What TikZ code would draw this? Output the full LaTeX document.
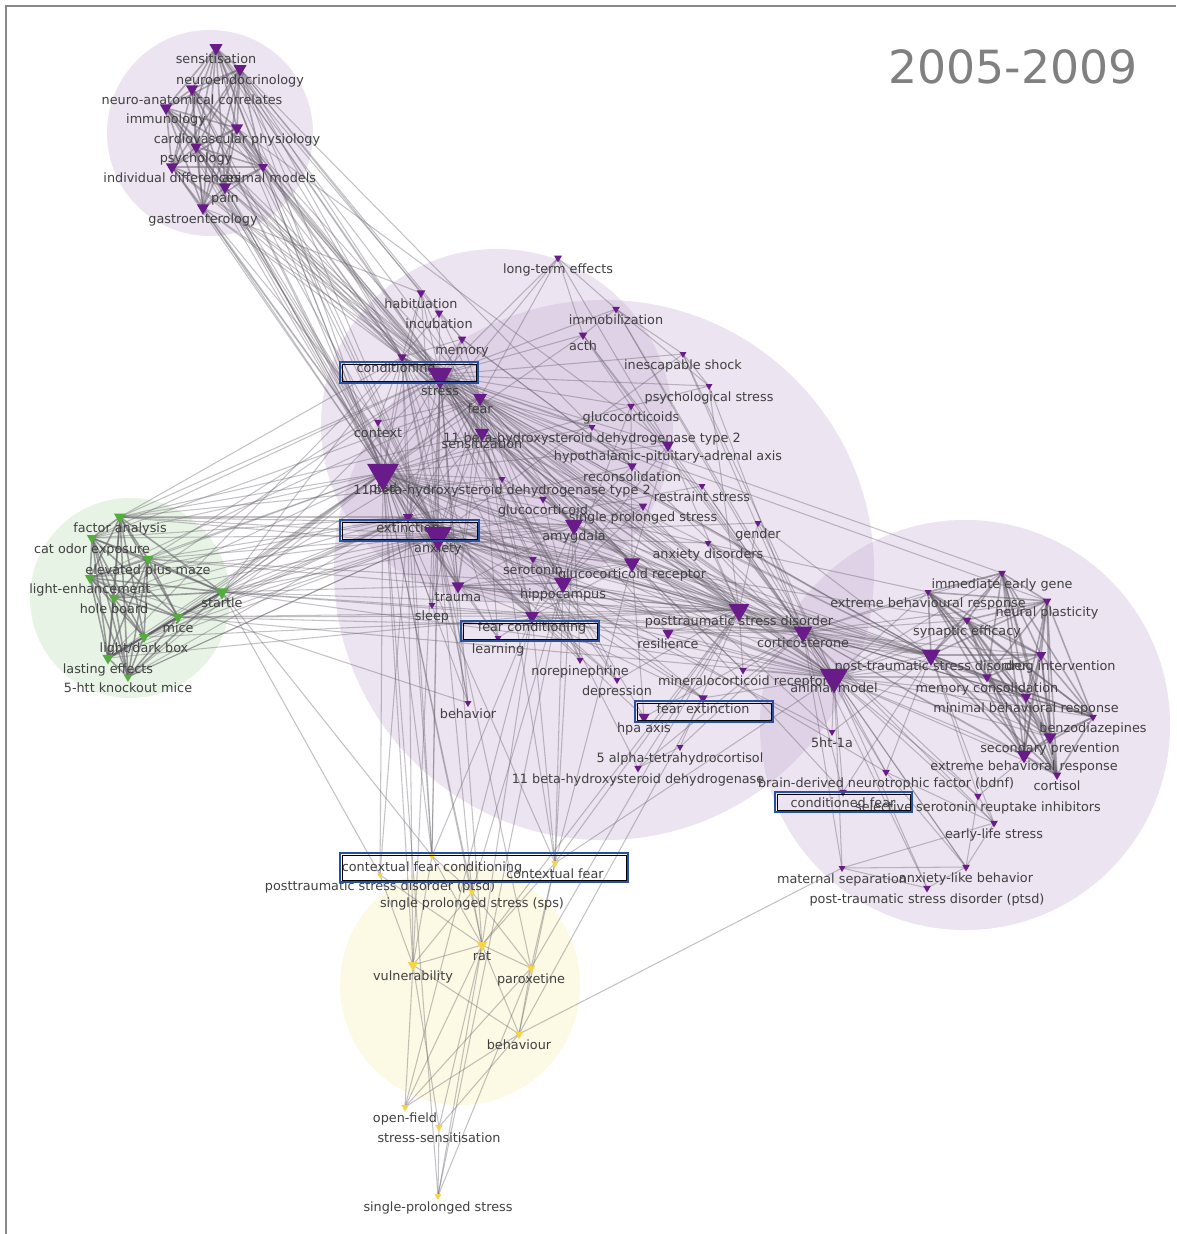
\documentclass[tikz,border=0pt]{standalone}
\usepackage{fontspec}
\setmainfont{DejaVu Sans}
\usetikzlibrary{shapes.geometric}
\pgfdeclarelayer{bg}
\pgfsetlayers{bg,main}
\definecolor{kwpurple}{RGB}{106,27,138}
\definecolor{kwgreen}{RGB}{84,172,62}
\definecolor{kwyellow}{RGB}{246,212,72}
\definecolor{kwcircp}{RGB}{190,160,205}
\definecolor{kwcircg}{RGB}{231,243,228}
\definecolor{kwcircy}{RGB}{252,249,228}
\definecolor{kwtext}{RGB}{64,64,64}
\definecolor{kwedge}{RGB}{100,95,105}
\definecolor{kwbox}{RGB}{40,80,160}
\definecolor{kwframe}{RGB}{136,136,136}
\definecolor{kwtitle}{RGB}{128,128,128}

\begin{document}
\begin{tikzpicture}[x=0.025cm,y=-0.025cm,
tri/.style={regular polygon, regular polygon sides=3, shape border rotate=180, inner sep=0pt, minimum size=#1*0.25mm},
ptri/.style={tri=#1, fill=kwpurple},
gtri/.style={tri=#1, fill=kwgreen},
ytri/.style={tri=#1, fill=kwyellow},
lbl/.style={font=\fontsize{9.1}{10}\selectfont, text=kwtext, inner sep=0pt, text height=0.75em, text depth=0.25em, yshift=-0.3cm},
edge/.style={draw=kwedge, line width=0.75pt, opacity=0.38},
cedge/.style={draw=kwedge, line width=1.1pt, opacity=0.5},
hlout/.style={draw=kwbox, line width=1.6pt},
hlin/.style={draw=black, line width=0.6pt}
]
\useasboundingbox (0,0) rectangle (1176,1234);

% topic circles
\begin{pgfonlayer}{bg}
\fill[white] (0,0) rectangle (1176,1234);
\fill[kwcircp, opacity=0.28] (210,133) circle[radius=2.575cm];
\fill[kwcircp, opacity=0.28] (497,425) circle[radius=4.4cm];
\fill[kwcircp, opacity=0.28] (604,570) circle[radius=6.75cm];
\fill[kwcircp, opacity=0.28] (965,725) circle[radius=5.125cm];
\fill[kwcircg] (130,598) circle[radius=2.5cm];
\fill[kwcircy] (460,985) circle[radius=3cm];
\end{pgfonlayer}

\draw[kwframe, line width=0.05cm] (6,1234) -- (6,6) -- (1176,6);
\node[font=\fontsize{32.5}{36}\selectfont, text=kwtitle] (title) at (1013,67) {2005-2009};

% top-left cluster
\node[ptri=15, label={[lbl]center:sensitisation}] (sens) at (216,48) {};
\node[ptri=15, label={[lbl]center:neuroendocrinology}] (neuend) at (240,69) {};
\node[ptri=14, label={[lbl]center:neuro-anatomical correlates}] (neuana) at (192,89) {};
\node[ptri=14, label={[lbl]center:immunology}] (immun) at (166,108) {};
\node[ptri=14, label={[lbl]center:cardiovascular physiology}] (cardio) at (237,128) {};
\node[ptri=13, label={[lbl]center:psychology}] (psych) at (196,147) {};
\node[ptri=14, label={[lbl]center:individual differences}] (indiv) at (172,167) {};
\node[ptri=11, label={[lbl,xshift=0.15cm]center:animal models}] (animod) at (263,167) {};
\node[ptri=14, label={[lbl]center:pain}] (pain) at (225,187) {};
\node[ptri=14, label={[lbl]center:gastroenterology}] (gastro) at (203,208) {};

% central cluster
\node[ptri=9, label={[lbl]center:long-term effects}] (longterm) at (558,258) {};
\node[ptri=10, label={[lbl]center:habituation}] (habit) at (421,293) {};
\node[ptri=10, label={[lbl]center:incubation}] (incub) at (439,313) {};
\node[ptri=10, label={[lbl]center:memory}] (memory) at (462,339) {};
\node[ptri=11, label={[lbl,xshift=-0.15cm]center:conditioning}] (cond) at (402,357) {};
\node[ptri=29, label={[lbl,yshift=-0.12cm]center:stress}] (stress) at (440,375) {};
\node[ptri=16, label={[lbl]center:fear}] (fear) at (480,398) {};
\node[ptri=9, label={[lbl]center:context}] (context) at (378,422) {};
\node[ptri=17, label={[lbl]center:sensitization}] (sensz) at (482,433) {};
\node[ptri=10, label={[lbl]center:acth}] (acth) at (583,335) {};
\node[ptri=9, label={[lbl]center:immobilization}] (immob) at (616,309) {};
\node[ptri=8, label={[lbl]center:inescapable shock}] (inesc) at (683,354) {};
\node[ptri=8, label={[lbl]center:psychological stress}] (psystr) at (709,386) {};
\node[ptri=9, label={[lbl]center:glucocorticoids}] (glucos) at (631,406) {};
\node[ptri=8, label={[lbl]center:11 beta-hydroxysteroid dehydrogenase type 2}] (hsdtwo) at (592,427) {};
\node[ptri=14, label={[lbl]center:hypothalamic-pituitary-adrenal axis}] (hpaxis) at (668,445) {};
\node[ptri=11, label={[lbl]center:reconsolidation}] (recons) at (632,466) {};
\node[ptri=8, label={[lbl]center:11 beta-hydroxysteroid dehydrogenase type 2}] (hsdtwob) at (502,479) {};
\node[ptri=37, label={[lbl,yshift=-0.1cm]center:ptsd}] (ptsd) at (383,473) {};
\node[ptri=9, label={[lbl]center:glucocorticoid}] (gluco) at (543,499) {};
\node[ptri=8, label={[lbl]center:restraint stress}] (restr) at (702,486) {};
\node[ptri=10, label={[lbl]center:single prolonged stress}] (spstr) at (643,506) {};
\node[ptri=12, label={[lbl]center:extinction}] (extinct) at (408,517) {};
\node[ptri=32, label={[lbl,yshift=-0.05cm]center:anxiety}] (anxiety) at (438,535) {};
\node[ptri=21, label={[lbl]center:amygdala}] (amyg) at (574,525) {};
\node[ptri=8, label={[lbl]center:gender}] (gender) at (758,523) {};
\node[ptri=8, label={[lbl]center:anxiety disorders}] (anxdis) at (708,543) {};
\node[ptri=9, label={[lbl]center:serotonin}] (seroton) at (533,559) {};
\node[ptri=19, label={[lbl]center:glucocorticoid receptor}] (gcr) at (632,563) {};
\node[ptri=21, label={[lbl]center:hippocampus}] (hippo) at (563,583) {};
\node[ptri=15, label={[lbl]center:trauma}] (trauma) at (458,586) {};
\node[ptri=8, label={[lbl]center:sleep}] (sleep) at (432,605) {};
\node[ptri=24, label={[lbl]center:posttraumatic stress disorder}] (ptsdis) at (739,610) {};
\node[ptri=16, label={[lbl]center:fear conditioning}] (fearcond) at (532,616) {};
\node[ptri=8, label={[lbl]center:learning}] (learning) at (498,638) {};
\node[ptri=8, label={[lbl]center:norepinephrine}] (norepi) at (580,660) {};
\node[ptri=8, label={[lbl]center:depression}] (depress) at (617,680) {};
\node[ptri=8, label={[lbl]center:behavior}] (behavior) at (468,703) {};
\node[ptri=13, label={[lbl]center:resilience}] (resil) at (668,633) {};
\node[ptri=22, label={[lbl]center:corticosterone}] (cort) at (803,632) {};
\node[ptri=9, label={[lbl]center:mineralocorticoid receptor}] (mcr) at (743,670) {};
\node[ptri=11, label={[lbl]center:fear extinction}] (fearext) at (703,698) {};
\node[ptri=13, label={[lbl]center:hpa axis}] (hpa) at (644,717) {};
\node[ptri=8, label={[lbl]center:5 alpha-tetrahydrocortisol}] (thf) at (680,747) {};
\node[ptri=9, label={[lbl]center:11 beta-hydroxysteroid dehydrogenase}] (hsd) at (638,768) {};
\node[ptri=8, label={[lbl]center:5ht-1a}] (htoa) at (832,732) {};

% right cluster
\node[ptri=9, label={[lbl]center:immediate early gene}] (ieg) at (1002,573) {};
\node[ptri=8, label={[lbl]center:extreme behavioural response}] (ebr) at (928,592) {};
\node[ptri=10, label={[lbl]center:neural plasticity}] (neural) at (1047,601) {};
\node[ptri=10, label={[lbl]center:synaptic efficacy}] (synap) at (967,620) {};
\node[ptri=22, label={[lbl]center:post-traumatic stress disorder}] (ptsdr) at (931,655) {};
\node[ptri=33, label={[lbl]center:animal model}] (animal) at (834,677) {};
\node[ptri=12, label={[lbl,xshift=0.47cm]center:drug intervention}] (drug) at (1041,655) {};
\node[ptri=11, label={[lbl]center:memory consolidation}] (memcon) at (987,677) {};
\node[ptri=12, label={[lbl]center:minimal behavioral response}] (minimal) at (1026,697) {};
\node[ptri=9, label={[lbl]center:benzodiazepines}] (benzo) at (1093,717) {};
\node[ptri=15, label={[lbl]center:secondary prevention}] (second) at (1050,737) {};
\node[ptri=17, label={[lbl]center:extreme behavioral response}] (ebrb) at (1024,755) {};
\node[ptri=10, label={[lbl]center:cortisol}] (cortisol) at (1057,775) {};
\node[ptri=9, label={[lbl]center:brain-derived neurotrophic factor (bdnf)}] (bdnf) at (886,772) {};
\node[ptri=9, label={[lbl]center:conditioned fear}] (condfear) at (843,792) {};
\node[ptri=9, label={[lbl]center:selective serotonin reuptake inhibitors}] (ssri) at (978,796) {};
\node[ptri=9, label={[lbl]center:early-life stress}] (early) at (994,823) {};
\node[ptri=8, label={[lbl]center:maternal separation}] (maternal) at (842,868) {};
\node[ptri=9, label={[lbl]center:anxiety-like behavior}] (anxlike) at (966,867) {};
\node[ptri=9, label={[lbl]center:post-traumatic stress disorder (ptsd)}] (ptsdp) at (927,888) {};

% green cluster
\node[gtri=14, label={[lbl]center:factor analysis}] (factor) at (120,517) {};
\node[gtri=12, label={[lbl]center:cat odor exposure}] (catodor) at (92,538) {};
\node[gtri=13, label={[lbl]center:elevated plus maze}] (epm) at (148,559) {};
\node[gtri=12, label={[lbl]center:light-enhancement}] (lighten) at (90,578) {};
\node[gtri=12, label={[lbl]center:hole board}] (hole) at (114,598) {};
\node[gtri=15, label={[lbl]center:startle}] (startle) at (222,592) {};
\node[gtri=13, label={[lbl]center:mice}] (mice) at (178,617) {};
\node[gtri=12, label={[lbl]center:light/dark box}] (ldbox) at (144,637) {};
\node[gtri=13, label={[lbl]center:lasting effects}] (lasting) at (108,658) {};
\node[gtri=10, label={[lbl]center:5-htt knockout mice}] (htt) at (128,677) {};

% yellow cluster
\node[ytri=8, label={[lbl]center:contextual fear conditioning}] (cfc) at (432,856) {};
\node[ytri=7, label={[lbl]center:posttraumatic stress disorder (ptsd)}] (ptsdy) at (380,875) {};
\node[ytri=9, label={[lbl]center:contextual fear}] (cfear) at (555,863) {};
\node[ytri=8, label={[lbl]center:single prolonged stress (sps)}] (sps) at (472,892) {};
\node[ytri=12, label={[lbl]center:rat}] (rat) at (482,945) {};
\node[ytri=12, label={[lbl]center:vulnerability}] (vuln) at (413,965) {};
\node[ytri=10, label={[lbl]center:paroxetine}] (parox) at (531,968) {};
\node[ytri=10, label={[lbl]center:behaviour}] (behav) at (519,1034) {};
\node[ytri=9, label={[lbl]center:open-field}] (openf) at (405,1107) {};
\node[ytri=9, label={[lbl]center:stress-sensitisation}] (stsens) at (439,1127) {};
\node[ytri=8, label={[lbl]center:single-prolonged stress}] (sprol) at (438,1196) {};

% co-occurrence links
\def\tlset{sens,neuend,neuana,immun,cardio,psych,indiv,animod,pain,gastro}
\def\greenset{factor,catodor,epm,lighten,hole,startle,mice,ldbox,lasting,htt}
\def\hubset{stress,ptsd,cond,anxiety,extinct,fear,sensz,amyg,hippo,gcr,ptsdis,cort,animal,ptsdr,fearcond,trauma}
\def\rightset{ieg,ebr,neural,synap,ptsdr,drug,memcon,minimal,benzo,second,ebrb,cortisol}
\begin{pgfonlayer}{bg}
\foreach \a [count=\i] in \tlset {
  \foreach \b [count=\j] in \tlset {\ifnum\i<\j \draw[cedge] (\a.center) -- (\b.center);\fi}
  \foreach \b in {stress,ptsd,cond,anxiety} \draw[edge] (\a.center) -- (\b.center);
}
\foreach \a [count=\i] in \greenset {
  \foreach \b [count=\j] in \greenset {\ifnum\i<\j \draw[cedge, opacity=0.6] (\a.center) -- (\b.center);\fi}
  \foreach \b in {ptsd,anxiety,extinct} \draw[edge] (\a.center) -- (\b.center);
}
\foreach \a [count=\i] in \hubset {
  \foreach \b [count=\j] in \hubset {\ifnum\i<\j \draw[edge] (\a.center) -- (\b.center);\fi}
}
\foreach \a [count=\i] in \rightset {
  \foreach \b [count=\j] in \rightset {\ifnum\i<\j \draw[cedge] (\a.center) -- (\b.center);\fi}
}
\foreach \a in {ieg,ebr,neural,synap,drug,memcon,minimal,benzo,second,ebrb,cortisol,bdnf,condfear,ssri,early,anxlike,maternal,ptsdp}
  \foreach \b in {animal,cort} \draw[edge] (\a.center) -- (\b.center);
\foreach \a/\b in {
  sens/fear, sens/sensz, sens/incub, neuend/habit, neuend/hsdtwo, neuend/memory, neuana/extinct,
  immun/sensz, cardio/fear, cardio/sensz, cardio/hpaxis, psych/trauma, indiv/fear, animod/amyg,
  animod/sensz, pain/extinct, pain/fear, gastro/habit, gastro/context,
  startle/fear, startle/sensz, startle/amyg, startle/hippo, startle/ptsdis, startle/animal,
  startle/cort, startle/fearcond, startle/cfc, startle/stress, startle/cond, factor/sensz,
  factor/hsdtwob, factor/amyg, factor/gcr, factor/stress, factor/cond, mice/animal, mice/cort,
  mice/fearcond, mice/ptsdis, epm/ptsdis, epm/hippo, epm/stress, catodor/stress, catodor/fear,
  lighten/fear, lighten/behavior, hole/stress, ldbox/ptsdis, lasting/cond, lasting/fearcond,
  htt/anxiety,
  longterm/immob, longterm/acth, longterm/stress, longterm/ptsd, longterm/hpaxis, longterm/fear,
  habit/stress, habit/cond, habit/ptsd, habit/sensz, habit/anxiety, incub/stress, incub/fear,
  incub/cond, incub/memory, memory/stress, memory/cond, memory/fear, memory/extinct, memory/recons,
  context/cond, context/ptsd, context/extinct, context/fear, acth/immob, acth/stress, acth/ptsd,
  acth/glucos, acth/hpaxis, acth/cort, immob/stress, immob/inesc, immob/psystr, immob/cort,
  immob/animal, inesc/psystr, inesc/stress, inesc/cort, inesc/anxiety, inesc/animal,
  psystr/stress, psystr/ptsdis, psystr/cort, psystr/glucos, glucos/stress, glucos/ptsd,
  glucos/hippo, glucos/gcr, glucos/cort, hsdtwo/stress, hsdtwo/ptsd, hsdtwo/fear, hsdtwo/cort,
  hpaxis/stress, hpaxis/ptsd, hpaxis/cort, hpaxis/gcr, hpaxis/hippo, hpaxis/ptsdis, recons/fear,
  recons/memory, recons/extinct, recons/cond, recons/amyg, hsdtwob/ptsd, hsdtwob/stress,
  hsdtwob/cort, gluco/ptsd, gluco/stress, gluco/gcr, gluco/amyg, gluco/hippo, restr/stress,
  restr/cort, restr/anxiety, restr/animal, spstr/ptsd, spstr/ptsdis, spstr/fear, spstr/hippo,
  spstr/amyg, gender/ptsdis, gender/ptsdr, gender/anxiety, gender/animal, anxdis/anxiety,
  anxdis/ptsdis, anxdis/ptsdr, anxdis/animal, seroton/anxiety, seroton/ptsd, seroton/hippo,
  seroton/depress, sleep/ptsd, sleep/anxiety, sleep/stress, sleep/fear, learning/fearcond,
  learning/cond, learning/extinct, learning/ptsd, learning/fear, norepi/ptsd, norepi/fear,
  norepi/amyg, norepi/stress, depress/anxiety, depress/ptsdis, depress/stress, depress/ptsd,
  behavior/ptsd, behavior/stress, behavior/cond, behavior/anxiety, resil/ptsdis, resil/stress,
  resil/animal, resil/cort, mcr/gcr, mcr/cort, mcr/animal, mcr/ptsdis, mcr/stress, fearext/ptsd,
  fearext/extinct, fearext/fearcond, fearext/hippo, fearext/animal, hpa/ptsd, hpa/cort,
  hpa/stress, hpa/gcr, thf/cort, thf/ptsdis, thf/hsd, hsd/ptsdis, hsd/cort, hsd/stress,
  htoa/animal, htoa/anxiety, htoa/ptsdr, htoa/stress,
  ptsd/ebr, stress/ieg, anxiety/synap, fear/neural, ptsd/memcon, extinct/minimal,
  bdnf/ptsdr, bdnf/anxlike, bdnf/early, bdnf/hippo, condfear/ptsdr, condfear/fear, ssri/ptsdr,
  ssri/anxlike, ssri/early, ssri/second, early/anxlike, early/ptsdr, early/maternal,
  maternal/anxlike, maternal/ptsdp, anxlike/ptsdp,
  rat/vuln, rat/parox, rat/behav, vuln/behav, vuln/openf, vuln/stsens, rat/openf, rat/stsens,
  behav/openf, parox/behav, sps/rat, sps/vuln, sps/parox, cfc/vuln, cfc/rat, ptsdy/vuln,
  cfear/parox, cfear/rat, sprol/rat, sprol/parox, stsens/behav, cfear/behav, ptsdy/rat, cfc/sps,
  sprol/stsens, openf/parox,
  cfc/ptsd, cfc/stress, cfc/cond, cfc/extinct, cfc/anxiety, cfc/fearcond, cfear/ptsd, cfear/fear,
  cfear/fearcond, cfear/amyg, cfear/hippo, cfear/gcr, cfear/ptsdis, cfear/animal, ptsdy/ptsd,
  ptsdy/startle, ptsdy/extinct, sps/ptsd, sps/anxiety, sps/hippo, rat/ptsd, rat/stress,
  rat/fearcond, rat/ptsdis, vuln/ptsd, vuln/stress, parox/ptsdis, parox/anxiety, behav/maternal,
  sprol/ptsd, sprol/hippo, openf/fearcond, behav/fearext, vuln/extinct}
  \draw[edge] (\a.center) -- (\b.center);
\draw[cedge, line width=1.6pt] (lasting.center) -- (mice.center) -- (startle.center);
\end{pgfonlayer}

% highlighted terms
\foreach \xa/\ya/\xb/\yb in {340/362/478/383, 340/520/479/541, 461/621/599/641, 635/701/773/722, 775/792/912/812, 340/853/628/882} {
  \draw[hlout] (\xa,\ya) rectangle (\xb,\yb);
  \draw[hlin] (\xa+2,\ya+2) rectangle (\xb-2,\yb-2);
}
\end{tikzpicture}
\end{document}
